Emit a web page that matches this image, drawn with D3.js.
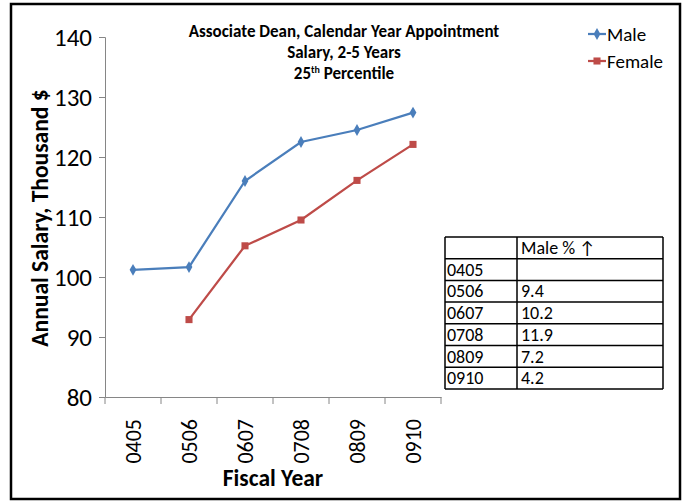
<!DOCTYPE html>
<html lang="en">
<head>
  <meta charset="UTF-8">
  <title>Associate Dean salary, 25th percentile</title>
  <script src="https://d3js.org/d3.v7.min.js"></script>
  <style>
    html, body { margin: 0; background: #fff; }
    svg { display: block; font-family: Carlito, Lato, "Open Sans", sans-serif; }
  </style>
</head>
<body>
  <svg id="chart" width="683" height="502"></svg>
  <script>
    const years = ["0405", "0506", "0607", "0708", "0809", "0910"];
    const male = [101.2, 101.65, 116.0, 122.5, 124.5, 127.4];
    const female = [null, 92.9, 105.2, 109.5, 116.1, 122.1];
    const malePctUp = ["", "9.4", "10.2", "11.9", "7.2", "4.2"];
    const yTicks = [80, 90, 100, 110, 120, 130, 140];

    const svg = d3.select("#chart");

    // outer frame
    svg.append("rect")
      .attr("x", 11).attr("y", 4).attr("width", 669).attr("height", 495)
      .attr("fill", "none").attr("stroke", "#000").attr("stroke-width", 2.5);

    const x = d3.scaleBand().domain(years).range([105, 441]);
    const y = d3.scaleLinear().domain([80, 140]).range([397, 37]);

    // y axis
    const yAxis = svg.append("g")
      .attr("transform", "translate(105,0)")
      .call(d3.axisLeft(y).tickValues(yTicks).tickSize(6).tickPadding(7));
    yAxis.select(".domain").attr("stroke", "#868686");
    yAxis.selectAll(".tick line").attr("stroke", "#868686");
    yAxis.selectAll(".tick text")
      .attr("font-size", 25).attr("fill", "#000")
      .style("font-family", "Carlito, Lato, sans-serif");

    // x axis
    const xAxis = svg.append("g")
      .attr("transform", "translate(0,397)")
      .call(d3.axisBottom(x).tickSize(0).tickFormat(""));
    xAxis.select(".domain").attr("stroke", "#868686");
    xAxis.selectAll(".tick").remove();
    const bounds = years.map(d => x(d)).concat([x.range()[1]]);
    svg.append("g").selectAll("line")
      .data(bounds)
      .join("line")
      .attr("x1", d => d).attr("x2", d => d)
      .attr("y1", 397).attr("y2", 404)
      .attr("stroke", "#868686");

    svg.append("g").selectAll("text")
      .data(years)
      .join("text")
      .attr("transform", d => `translate(${x(d) + x.bandwidth() / 2 + 8},419) rotate(-90)`)
      .attr("text-anchor", "end")
      .attr("font-size", 22)
      .text(d => d);

    // axis titles
    svg.append("text")
      .attr("transform", "translate(48,218) rotate(-90)")
      .attr("text-anchor", "middle")
      .attr("font-size", 23.5).attr("font-weight", "bold")
      .text("Annual Salary, Thousand $");

    svg.append("text")
      .attr("x", 273).attr("y", 486)
      .attr("text-anchor", "middle")
      .attr("font-size", 23.5).attr("font-weight", "bold")
      .text("Fiscal Year");

    // title
    const title = svg.append("text")
      .attr("text-anchor", "middle")
      .attr("font-size", 17).attr("font-weight", "bold");
    title.append("tspan").attr("x", 344).attr("y", 37).text("Associate Dean, Calendar Year Appointment");
    title.append("tspan").attr("x", 344).attr("y", 58).text("Salary, 2-5 Years");
    const t3 = svg.append("text")
      .attr("x", 344).attr("y", 79)
      .attr("text-anchor", "middle")
      .attr("font-size", 17).attr("font-weight", "bold");
    t3.append("tspan").text("25");
    t3.append("tspan").attr("font-size", 10).attr("dy", -6).text("th");
    t3.append("tspan").attr("dy", 6).text(" Percentile");

    // series
    const series = [
      { name: "Male", values: male, color: "#4A7EBB", marker: d3.symbolDiamond, size: 40 },
      { name: "Female", values: female, color: "#BE4B48", marker: d3.symbolSquare, size: 50 }
    ];
    const cx = d => x(d) + x.bandwidth() / 2;
    const line = d3.line()
      .defined(d => d.v != null)
      .x(d => cx(d.year))
      .y(d => y(d.v));

    series.forEach(s => {
      const pts = years.map((yr, i) => ({ year: yr, v: s.values[i] }));
      svg.append("path")
        .datum(pts)
        .attr("fill", "none")
        .attr("stroke", s.color)
        .attr("stroke-width", 2.25)
        .attr("d", line);
      svg.append("g").selectAll("path")
        .data(pts.filter(d => d.v != null))
        .join("path")
        .attr("transform", d => `translate(${cx(d.year)},${y(d.v)})`)
        .attr("d", d3.symbol(s.marker, s.size))
        .attr("fill", s.color);
    });

    // legend
    series.forEach((s, i) => {
      const g = svg.append("g").attr("transform", `translate(588,${34 + i * 27})`);
      g.append("line").attr("x1", 0).attr("x2", 18).attr("stroke", s.color).attr("stroke-width", 2.25);
      g.append("path").attr("transform", "translate(9,0)")
        .attr("d", d3.symbol(s.marker, s.size)).attr("fill", s.color);
      g.append("text").attr("x", 19).attr("y", 6.5).attr("font-size", 19).text(s.name);
    });

    // table
    const tx0 = 445, tx1 = 517, tx2 = 663, ty0 = 237, rowH = 21.7;
    const rows = [["", "Male % \u2191"]].concat(years.map((yr, i) => [yr, malePctUp[i]]));
    const tbl = svg.append("g");
    rows.forEach((r, i) => {
      const ry = ty0 + i * rowH;
      tbl.append("line").attr("x1", tx0).attr("x2", tx2).attr("y1", ry).attr("y2", ry)
        .attr("stroke", "#000").attr("stroke-width", 1.5);
      tbl.append("text").attr("x", tx0 + 2).attr("y", ry + 17).attr("font-size", 18).text(r[0]);
      tbl.append("text").attr("x", tx1 + 4).attr("y", ry + 17).attr("font-size", 18).text(r[1]);
    });
    const tyEnd = ty0 + rows.length * rowH;
    tbl.append("line").attr("x1", tx0).attr("x2", tx2).attr("y1", tyEnd).attr("y2", tyEnd)
      .attr("stroke", "#000").attr("stroke-width", 1.5);
    [tx0, tx1, tx2].forEach(xx => {
      tbl.append("line").attr("x1", xx).attr("x2", xx).attr("y1", ty0).attr("y2", tyEnd)
        .attr("stroke", "#000").attr("stroke-width", 1.5);
    });
  </script>
</body>
</html>
